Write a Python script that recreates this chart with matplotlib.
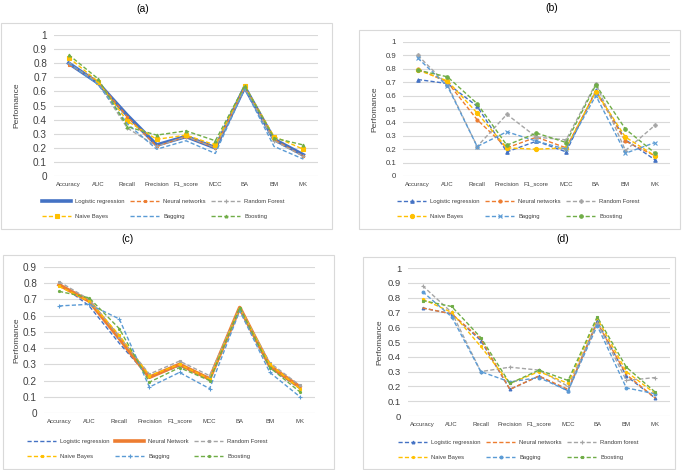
import matplotlib.pyplot as plt
from matplotlib.patches import Rectangle

plt.rcParams.update({'font.family': 'Liberation Sans'})

W, H = 685, 470

metrics = ['Accuracy', 'AUC', 'Recall', 'Precision', 'F1_score', 'MCC', 'BA', 'BM', 'MK']

# panel (a)
a_labels = ['Logistic regression', 'Neural networks', 'Random Forest', 'Naive Bayes', 'Bagging', 'Boosting']
a_lr = [0.80, 0.66, 0.43, 0.22, 0.28, 0.20, 0.63, 0.26, 0.15]
a_nn = [0.79, 0.67, 0.42, 0.21, 0.28, 0.20, 0.63, 0.26, 0.14]
a_rf = [0.80, 0.66, 0.34, 0.21, 0.28, 0.20, 0.62, 0.25, 0.14]
a_nb = [0.84, 0.67, 0.39, 0.26, 0.29, 0.22, 0.64, 0.28, 0.19]
a_bag = [0.80, 0.65, 0.37, 0.19, 0.25, 0.16, 0.62, 0.21, 0.12]
a_boost = [0.86, 0.69, 0.35, 0.29, 0.32, 0.25, 0.64, 0.27, 0.22]

# panel (b)
b_labels = ['Logistic regression', 'Neural networks', 'Random Forest', 'Naive Bayes', 'Bagging', 'Boosting']
b_lr = [0.72, 0.69, 0.52, 0.18, 0.26, 0.18, 0.64, 0.27, 0.12]
b_nn = [0.80, 0.70, 0.42, 0.21, 0.29, 0.21, 0.63, 0.26, 0.15]
b_rf = [0.90, 0.68, 0.22, 0.46, 0.29, 0.27, 0.69, 0.19, 0.38]
b_nb = [0.79, 0.71, 0.47, 0.21, 0.20, 0.21, 0.63, 0.29, 0.15]
b_bag = [0.88, 0.67, 0.22, 0.33, 0.26, 0.20, 0.60, 0.17, 0.25]
b_boost = [0.79, 0.74, 0.54, 0.23, 0.32, 0.25, 0.68, 0.35, 0.17]

# panel (c)
c_labels = ['Logistic regression', 'Neural Network', 'Random Forest', 'Naive Bayes', 'Bagging', 'Boosting']
c_lr = [0.80, 0.66, 0.43, 0.22, 0.29, 0.21, 0.64, 0.28, 0.15]
c_nn = [0.79, 0.69, 0.46, 0.22, 0.30, 0.21, 0.65, 0.29, 0.16]
c_rf = [0.81, 0.70, 0.47, 0.24, 0.32, 0.23, 0.65, 0.31, 0.17]
c_nb = [0.78, 0.69, 0.48, 0.23, 0.30, 0.21, 0.65, 0.30, 0.15]
c_bag = [0.66, 0.67, 0.58, 0.16, 0.25, 0.15, 0.63, 0.25, 0.10]
c_boost = [0.75, 0.71, 0.52, 0.19, 0.28, 0.20, 0.65, 0.28, 0.13]

# panel (d)
d_labels = ['Logistic regression', 'Neural networks', 'Random forest', 'Naive Bayes', 'Bagging', 'Boosting']
d_lr = [0.73, 0.69, 0.51, 0.18, 0.27, 0.17, 0.64, 0.27, 0.12]
d_nn = [0.73, 0.69, 0.52, 0.18, 0.27, 0.18, 0.63, 0.28, 0.12]
d_rf = [0.88, 0.70, 0.30, 0.33, 0.31, 0.20, 0.63, 0.24, 0.26]
d_nb = [0.79, 0.70, 0.47, 0.22, 0.30, 0.22, 0.66, 0.30, 0.15]
d_bag = [0.84, 0.67, 0.30, 0.23, 0.26, 0.17, 0.61, 0.19, 0.15]
d_boost = [0.78, 0.74, 0.53, 0.22, 0.31, 0.24, 0.67, 0.33, 0.16]

colors = ['#4472C4', '#ED7D31', '#A5A5A5', '#FFC000', '#5B9BD5', '#70AD47']
dash = (0, (3, 1.6))


def frac(x0, y0, x1, y1):
    return [x0 / W, 1 - y1 / H, (x1 - x0) / W, (y1 - y0) / H]


def panel(fig, box, frame, title, tpos, ymax, series, labels, styles, leg_xy, tick_fs, ylab_x):
    r = frac(*frame)
    fig.add_artist(Rectangle((r[0], r[1]), r[2], r[3], transform=fig.transFigure,
                             fill=False, ec='#D9D9D9', lw=0.8))
    fig.text(tpos[0] / W, 1 - tpos[1] / H, title, ha='center', va='center', fontsize=7.5)
    ax = fig.add_axes(frac(*box))
    x = range(len(metrics))
    handles = []
    for vals, lab, c, st in zip(series, labels, colors, styles):
        ls, lw, mk, ms = st
        h, = ax.plot(x, vals, color=c, ls=ls, lw=lw, marker=mk, ms=ms, mec=c, mfc=c,
                     mew=0.8, label=lab, clip_on=False)
        handles.append(h)
    ax.set_xlim(-0.5, len(metrics) - 0.5)
    ax.set_ylim(0, ymax)
    ticks = [i / 10 for i in range(int(round(ymax * 10)) + 1)]
    ax.set_yticks(ticks)
    ax.set_yticklabels(['%g' % t for t in ticks], fontsize=tick_fs, color='#404040')
    ax.set_xticks(list(x))
    ax.set_xticklabels(metrics, fontsize=4.3, color='#404040')
    ax.tick_params(length=0, axis='y', pad=5)
    ax.tick_params(length=0, axis='x', pad=4)
    for s in ax.spines.values():
        s.set_visible(False)
    ax.grid(axis='y', color='#D9D9D9', lw=0.8)
    ax.set_axisbelow(True)
    ax.set_ylabel('Perfomance', fontsize=6, color='#404040')
    ax.yaxis.set_label_coords((ylab_x - box[0]) / (box[2] - box[0]), 0.5)
    order = [0, 3, 1, 4, 2, 5]
    fig.legend([handles[i] for i in order], [labels[i] for i in order], ncol=3,
               loc='upper left', bbox_to_anchor=(leg_xy[0] / W, 1 - leg_xy[1] / H),
               frameon=False, fontsize=4.2, handlelength=5.0, handletextpad=0.7,
               columnspacing=0.9, labelspacing=1.7, borderpad=0, borderaxespad=0,
               numpoints=1, labelcolor='#404040')
    return ax


fig = plt.figure(figsize=(6.85, 4.7), dpi=100)

sty_a = [('-', 2.6, None, 0), (dash, 1, 's', 2), (dash, 1, '+', 2.5),
         (dash, 1, 's', 2.2), (dash, 1, None, 0), (dash, 1, '^', 2)]
panel(fig, (54, 35, 318, 176), (1, 23, 332, 229), '(a)', (143, 9), 1.0,
      [a_lr, a_nn, a_rf, a_nb, a_bag, a_boost], a_labels, sty_a, (42, 199), 7.2, 20)

sty_b = [(dash, 1, '^', 2.5), (dash, 1, 'o', 2.2), (dash, 1, 'P', 2.5),
         (dash, 1, 'o', 3), (dash, 1, 'x', 2.5), (dash, 1, 'o', 2.5)]
panel(fig, (403, 42, 670, 176), (359, 30, 680, 229), '(b)', (552, 8), 1.0,
      [b_lr, b_nn, b_rf, b_nb, b_bag, b_boost], b_labels, sty_b, (397, 199), 5.6, 378)

sty_c = [(dash, 1, None, 0), ('-', 2.6, None, 0), (dash, 1, 's', 2),
         (dash, 1, 's', 2), (dash, 1, '+', 2.5), (dash, 1, 'o', 1.5)]
panel(fig, (44, 267, 315, 413), (3, 255, 334, 469), '(c)', (128, 239), 0.9,
      [c_lr, c_nn, c_rf, c_nb, c_bag, c_boost], c_labels, sty_c, (27, 439), 7.2, 20)

sty_d = [(dash, 1, '^', 2), (dash, 1, None, 0), (dash, 1, '+', 2.5),
         (dash, 1, 'o', 1.5), (dash, 1, 'o', 2), (dash, 1, 's', 1.8)]
panel(fig, (408, 268, 670, 416), (363, 257, 675, 469), '(d)', (563, 239), 1.0,
      [d_lr, d_nn, d_rf, d_nb, d_bag, d_boost], d_labels, sty_d, (398, 440), 6.8, 383)

fig.savefig('out.png', dpi=100)
